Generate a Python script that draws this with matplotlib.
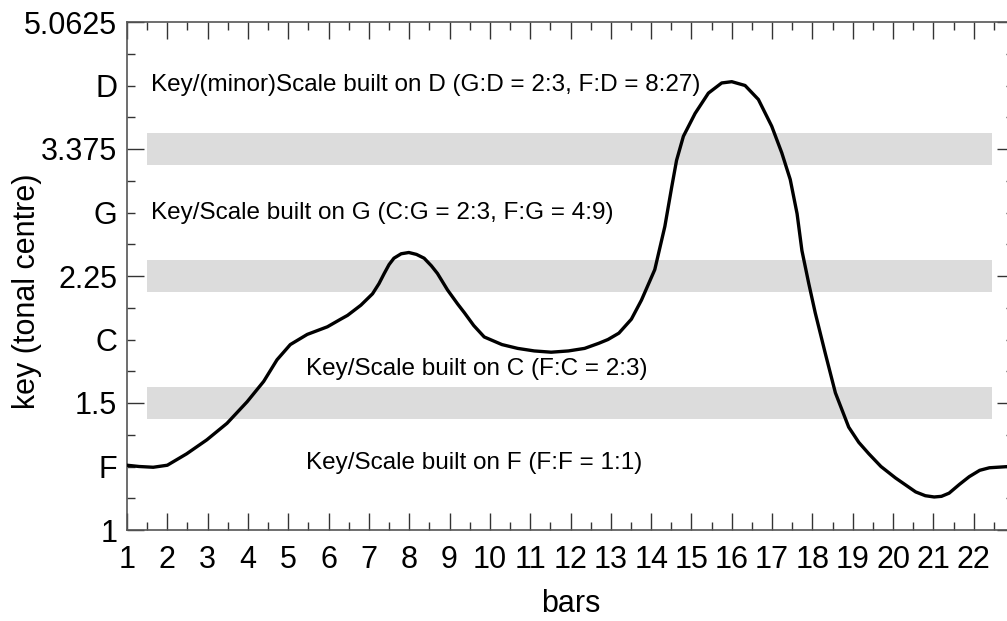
import numpy as np
import matplotlib
matplotlib.use("Agg")
import matplotlib.pyplot as plt
from matplotlib.ticker import FixedLocator, FixedFormatter

plt.rcParams['font.family'] = ['Liberation Sans', 'DejaVu Sans']

# curve: bar position and key level (steps of log base 1.5)
bars = [1.0, 1.3, 1.65, 2.0, 2.48, 2.98, 3.48, 3.98, 4.39, 4.72, 5.05, 5.47,
        5.97, 6.3, 6.47, 6.8, 7.09, 7.25, 7.38, 7.5, 7.62, 7.8, 7.99, 8.18,
        8.37, 8.55, 8.7, 8.95, 9.2, 9.37, 9.6, 9.86, 10.3, 10.69, 11.1, 11.52,
        11.95, 12.35, 12.7, 12.93, 13.2, 13.51, 13.76, 14.09, 14.34, 14.51,
        14.63, 14.8, 15.09, 15.42, 15.75, 16.0, 16.33, 16.66, 16.99, 17.24,
        17.45, 17.62, 17.74, 17.91, 18.07, 18.32, 18.57, 18.9, 19.15, 19.4,
        19.7, 20.06, 20.56, 20.8, 21.02, 21.2, 21.39, 21.65, 21.89, 22.15,
        22.39, 22.88, 23.0]
level = [0.51, 0.50, 0.494, 0.51, 0.60, 0.71, 0.84, 1.01, 1.17, 1.34, 1.46, 1.54,
         1.60, 1.66, 1.69, 1.77, 1.86, 1.94, 2.02, 2.09, 2.14, 2.175, 2.185, 2.17,
         2.14, 2.08, 2.02, 1.89, 1.78, 1.71, 1.61, 1.52, 1.46, 1.43, 1.41, 1.40,
         1.41, 1.43, 1.47, 1.50, 1.55, 1.66, 1.81, 2.05, 2.39, 2.70,
         2.91, 3.10, 3.28, 3.44, 3.52, 3.53, 3.50, 3.39, 3.18, 2.97,
         2.76, 2.49, 2.20, 1.94, 1.71, 1.39, 1.08, 0.81, 0.69, 0.60,
         0.50, 0.41, 0.30, 0.27, 0.26, 0.265, 0.29, 0.36, 0.42, 0.47,
         0.49, 0.50, 0.50]
key = [1.5 ** v for v in level]

major_vals = [1, 1.5, 2.25, 3.375, 5.0625]
major_labels = ['1', '1.5', '2.25', '3.375', '5.0625']
note_names = ['F', 'C', 'G', 'D']
band_centres = [1.5, 2.25, 3.375]

texts = [
    (1.6, 1.5 ** 3.5, 'Key/(minor)Scale built on D (G:D = 2:3, F:D = 8:27)'),
    (1.6, 1.5 ** 2.5, 'Key/Scale built on G (C:G = 2:3, F:G = 4:9)'),
    (5.45, 1.5 ** 1.27, 'Key/Scale built on C (F:C = 2:3)'),
    (5.45, 1.5 ** 0.53, 'Key/Scale built on F (F:F = 1:1)'),
]

fig = plt.figure(figsize=(10.07, 6.21), dpi=100)
ax = fig.add_axes([127 / 1007, 91 / 621, 887 / 1007, 508 / 621])

ax.set_yscale('log', base=1.5)
ax.set_xlim(1, 23)
ax.set_ylim(1, 5.0625)

for c in band_centres:
    ax.fill_between([1.5, 22.45], c * 1.5 ** -0.125, c * 1.5 ** 0.125,
                    color='#dcdcdc', lw=0, zorder=0)

ax.plot(bars, key, color='black', lw=2.4, zorder=3,
        solid_joinstyle='round', solid_capstyle='round')

for x, y, s in texts:
    ax.text(x, y, s, fontsize=17.5, va='center', ha='left', zorder=4)

ax.xaxis.set_major_locator(FixedLocator(list(range(1, 24))))
ax.xaxis.set_major_formatter(FixedFormatter([str(i) for i in range(1, 23)] + ['']))
ax.xaxis.set_minor_locator(FixedLocator([i + 0.5 for i in range(1, 23)]))

minor_pos = [1.5 ** (k / 4) for k in range(17) if k % 4 != 0]
minor_lab = []
for k in range(17):
    if k % 4 == 0:
        continue
    minor_lab.append(note_names[k // 4] if k % 4 == 2 else '')
ax.yaxis.set_major_locator(FixedLocator(major_vals))
ax.yaxis.set_major_formatter(FixedFormatter(major_labels))
ax.yaxis.set_minor_locator(FixedLocator(minor_pos))
ax.yaxis.set_minor_formatter(FixedFormatter(minor_lab))

ax.tick_params(which='both', direction='in', top=True, right=True,
               color='#333333', width=1, labelsize=22)
ax.tick_params(which='major', length=12)
ax.tick_params(which='minor', length=5.5)
ax.tick_params(axis='x', which='both', pad=11)
ax.tick_params(axis='y', which='both', pad=7)

for sp in ax.spines.values():
    sp.set_color('#555555')
    sp.set_linewidth(1.2)

ax.set_xlabel('bars', fontsize=22, labelpad=10)
ax.set_ylabel('key (tonal centre)', fontsize=22)
ax.yaxis.set_label_coords(-0.096, 0.469)

fig.savefig('out.png', dpi=100)
